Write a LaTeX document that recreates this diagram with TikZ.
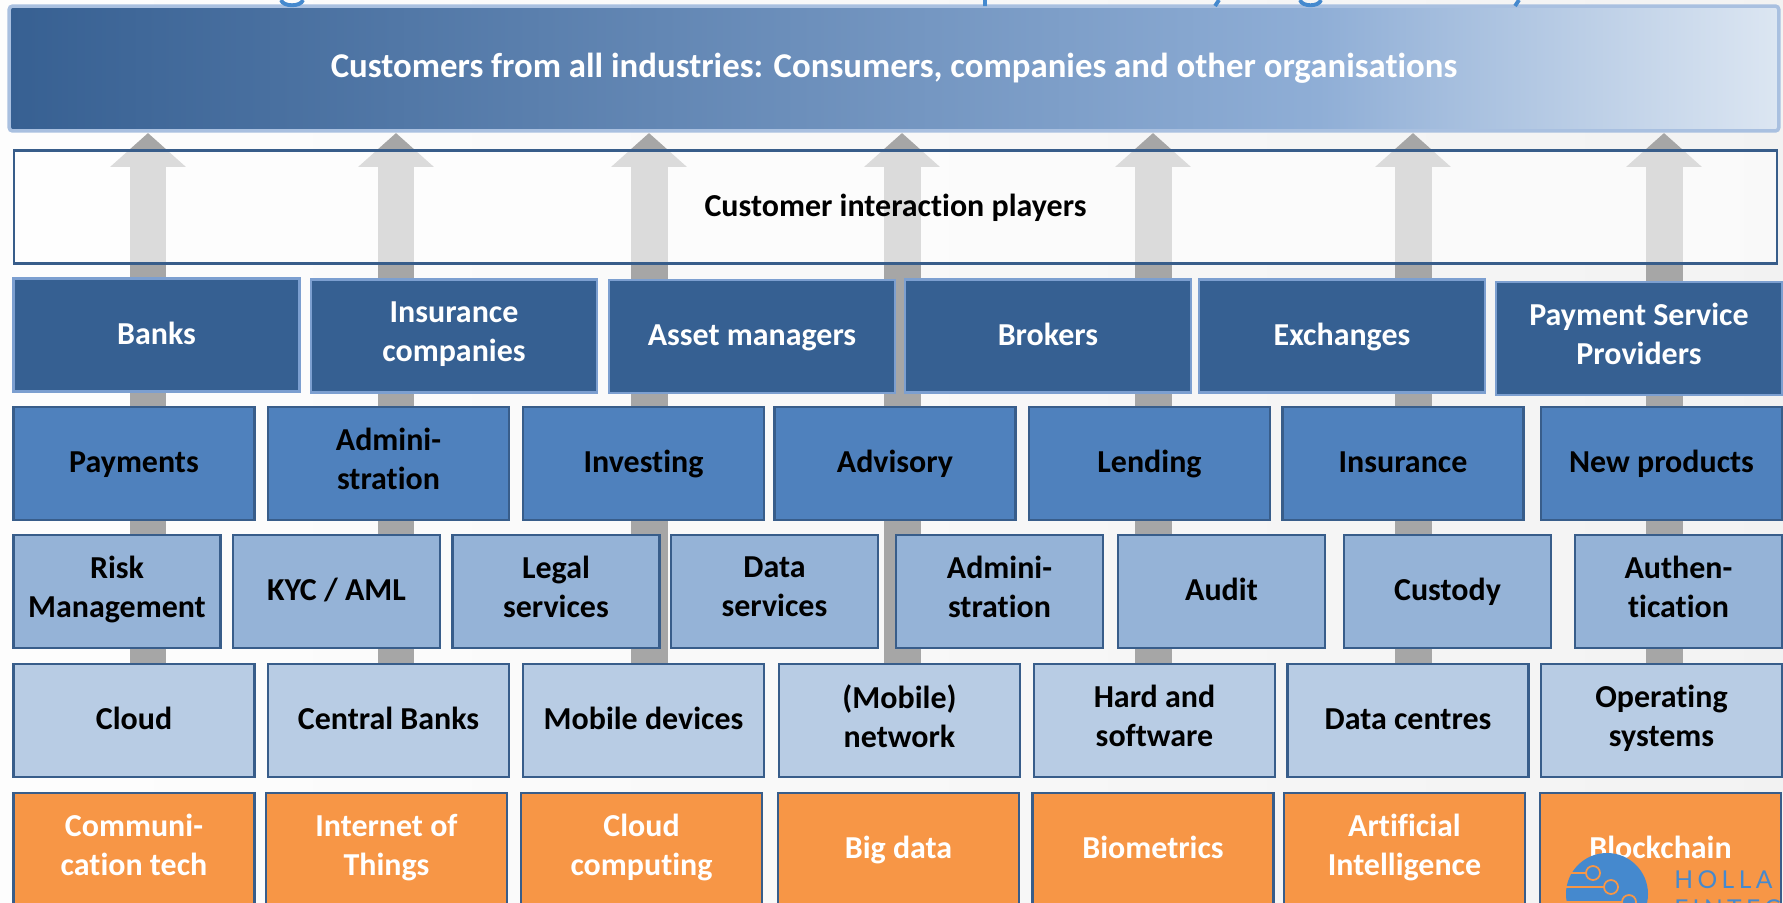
\documentclass[tikz,border=0pt]{standalone}
\usepackage{fontspec}
\setmainfont[Ligatures=NoCommon]{Carlito}
\newfontfamily\logofont[LetterSpace=18]{Lato}
\usepackage{tikz}
\usetikzlibrary{arrows.meta}

\definecolor{bannerdark}{HTML}{376092}
\definecolor{bannermid}{HTML}{8FAED6}
\definecolor{bannerlight}{HTML}{DCE6F2}
\definecolor{bannerline}{HTML}{A9C0E0}
\definecolor{frameblue}{HTML}{385D8A}
\definecolor{firmline}{HTML}{7C9FD0}
\definecolor{firmfill}{HTML}{366092}
\definecolor{processfill}{HTML}{4F81BD}
\definecolor{supportfill}{HTML}{95B3D7}
\definecolor{infrafill}{HTML}{B8CCE4}
\definecolor{techfill}{HTML}{F79646}
\definecolor{arrowgray}{HTML}{A6A6A6}
\definecolor{logoblue}{HTML}{4589CE}

\pgfdeclarehorizontalshading{bannershade}{100bp}{
	color(0bp)=(bannerdark);
	color(25bp)=(bannerdark);
	color(62bp)=(bannermid);
	color(75bp)=(bannerlight);
	color(100bp)=(bannerlight)}

\newcommand{\boxstrut}{\rule[-5.5pt]{0pt}{21.5pt}}

\tikzset{
	box/.style={draw=frameblue,line width=1.2pt,outer sep=0pt,inner sep=0pt,align=center,
		font=\fontsize{18.2}{22.2}\selectfont\bfseries,minimum height=2.26cm,
		execute at begin node=\boxstrut,execute at end node=\boxstrut},
	firm/.style={box,draw=firmline,fill=firmfill,text=white,minimum width=5.72cm,line width=1.6pt},
	process/.style={box,fill=processfill,minimum width=4.82cm},
	support/.style={box,fill=supportfill,minimum width=4.14cm},
	infra/.style={box,fill=infrafill,minimum width=4.82cm},
	tech/.style={box,fill=techfill,text=white,minimum width=4.82cm},
	uparrow/.style={draw=arrowgray,line width=.74cm,-{Triangle[length=.68cm,width=1.48cm]}},
	circuit/.style={draw=techfill,line width=1pt,fill=logoblue}
}

\begin{document}
\begin{tikzpicture}[x=0.02cm,y=-0.02cm]
	\clip (0,0) rectangle (1783,903);
	\shade[left color=white!70!black!2,right color=black!5] (0,0) rectangle (1783,903);

	%% Arrows running up from the lower rows
	\foreach \name/\xpos in {a/148,b/396,c/649,d/902,e/1153,f/1413,g/1664} {
		\coordinate (\name foot) at (\xpos,700);
		\coordinate (\name tip) at (\xpos,133);
		\draw[uparrow] (\name foot) -- (\name tip);
	}

	%% Top rows
	\node[draw=bannerline,line width=2pt,rounded corners=2pt,shading=bannershade,shading angle=0,
		minimum width=35.4cm,minimum height=2.5cm,outer sep=0pt,text=white,
		font=\fontsize{19.8}{22}\selectfont\bfseries,
		execute at begin node=\boxstrut] (customers) at (894,68.5)
		{Customers from all industries: Consumers, companies and other organisations};
	\node[draw=frameblue,line width=1.3pt,fill=white,fill opacity=.6,text opacity=1,
		minimum width=35.28cm,minimum height=2.26cm,outer sep=0pt,
		font=\fontsize{18.2}{22}\selectfont\bfseries,
		execute at begin node=\boxstrut] (players) at (895.5,207)
		{Customer interaction players};

	%% Cut-off line of text above the banner
	\draw[draw=logoblue,line width=2.2pt]
		(281,0) .. controls (283,7) and (301,7) .. (303,0)
		(1300,0) .. controls (1302,7) and (1319,7) .. (1321,0)
		(985,0) -- (985,6)
		(1219,0) -- (1215,6)
		(1519,0) -- (1515,6);

	%% Firms
	\node[firm] (banks) at (156.5,335) {Banks};
	\node[firm] (insurers) at (454,336) {Insurance\\companies};
	\node[firm] (managers) at (752,336.5) {Asset managers};
	\node[firm] (brokers) at (1048,336) {Brokers};
	\node[firm] (exchanges) at (1342,336) {Exchanges};
	\node[firm] (psp) at (1639,338.5) {Payment Service\\Providers};

	%% Processes
	\node[process] (payments) at (134,463.5) {Payments};
	\node[process] (admin) at (388.5,463.5) {Admini-\\stration};
	\node[process] (investing) at (643.5,463.5) {Investing};
	\node[process] (advisory) at (895,463.5) {Advisory};
	\node[process] (lending) at (1149.5,463.5) {Lending};
	\node[process] (insurance) at (1403,463.5) {Insurance};
	\node[process] (products) at (1661.5,463.5) {New products};

	%% Support functions
	\node[support] (risk) at (117,591.5) {Risk\\Management};
	\node[support] (kyc) at (336.5,591.5) {KYC / AML};
	\node[support] (legal) at (556,591.5) {Legal\\services};
	\node[support] (data) at (774.5,591.5) {Data\\services};
	\node[support] (backoffice) at (999.5,591.5) {Admini-\\stration};
	\node[support] (audit) at (1221.5,591.5) {Audit};
	\node[support] (custody) at (1447.5,591.5) {Custody};
	\node[support] (authen) at (1678.5,591.5) {Authen-\\tication};

	%% Infrastructure
	\node[infra] (cloud) at (134,720.5) {Cloud};
	\node[infra] (central) at (388.5,720.5) {Central Banks};
	\node[infra] (mobile) at (643.5,720.5) {Mobile devices};
	\node[infra] (network) at (899.5,720.5) {(Mobile)\\network};
	\node[infra] (hardware) at (1154.5,720.5) {Hard and\\software};
	\node[infra] (centres) at (1408,720.5) {Data centres};
	\node[infra] (systems) at (1661.5,720.5) {Operating\\systems};

	%% Technologies
	\node[tech] (comm) at (134,849.5) {Communi-\\cation tech};
	\node[tech] (iot) at (386.5,849.5) {Internet of\\Things};
	\node[tech] (computing) at (641.5,849.5) {Cloud\\computing};
	\node[tech] (bigdata) at (898.5,849.5) {Big data};
	\node[tech] (biometrics) at (1153,849.5) {Biometrics};
	\node[tech] (ai) at (1404.5,849.5) {Artificial\\Intelligence};
	\node[tech] (blockchain) at (1660.5,849.5) {Blockchain};

	%% Logo
	\fill[logoblue] (1607,894) circle (41);
	\draw[draw=techfill,line width=1pt] (1567,873) -- (1586,873) (1566,887) -- (1604,887) (1566,902) -- (1622,902);
	\draw[circuit] (1593,873) circle (7);
	\draw[circuit] (1611,887) circle (7);
	\draw[circuit] (1629,902) circle (7);
	\node[anchor=base west,inner sep=0pt,text=logoblue,font=\fontsize{14}{14}\logofont] (holla) at (1674,888) {HOLLA};
	\node[anchor=base west,inner sep=0pt,text=logoblue,font=\fontsize{14}{14}\logofont] (fintech) at (1674,917) {FINTECH};
\end{tikzpicture}
\end{document}
